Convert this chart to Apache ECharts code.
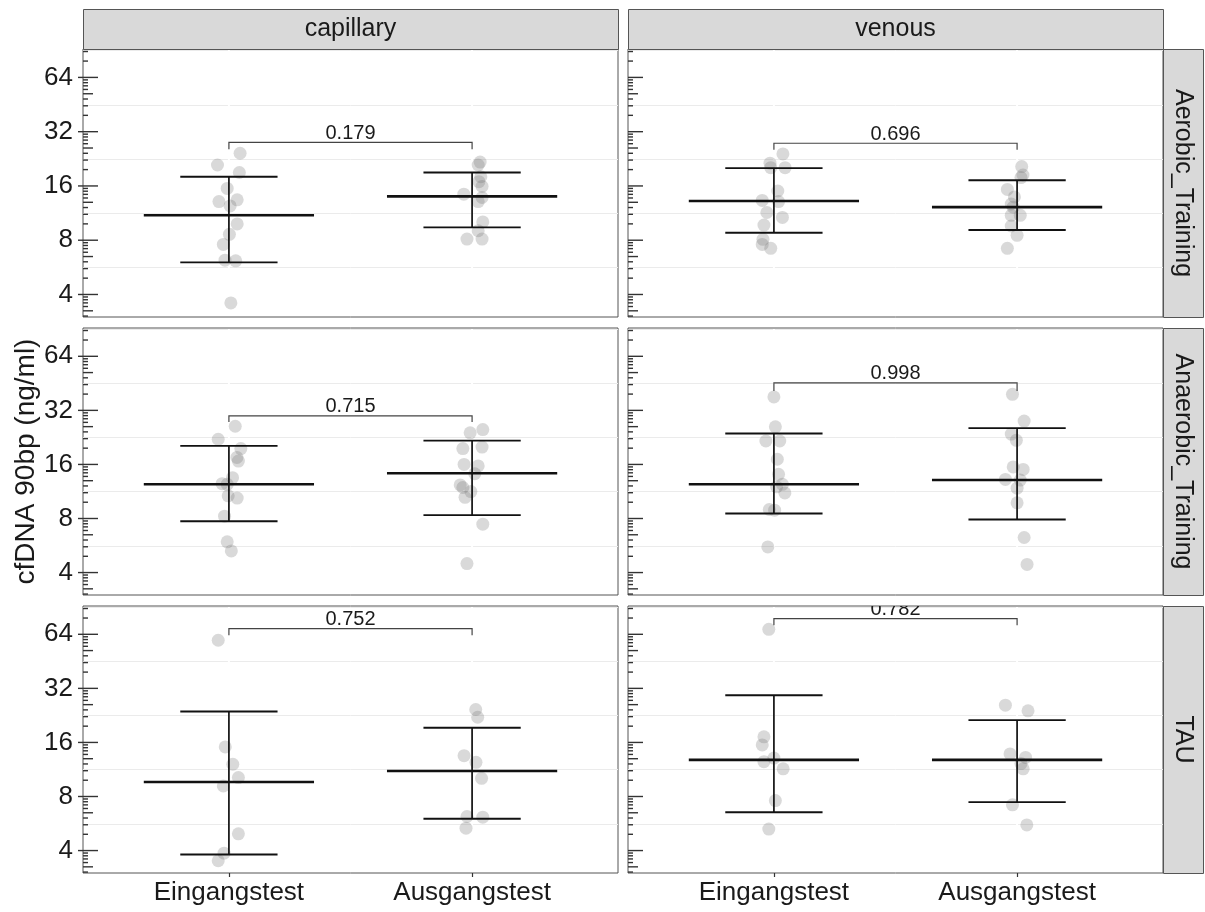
<!DOCTYPE html>
<html>
<head>
<meta charset="utf-8">
<script src="https://cdn.jsdelivr.net/npm/echarts@6/dist/echarts.min.js"></script>
<style>
  html, body { margin: 0; padding: 0; background: #ffffff; }
  #chart { width: 1205px; height: 912px; }
</style>
</head>
<body>
<div id="chart"></div>
<script>
// ---- facet labels and axis ticks ----
const timepoints = ['Eingangstest', 'Ausgangstest'];
const sampleTypes = ['capillary', 'venous'];
const trainingGroups = ['Aerobic_Training', 'Anaerobic_Training', 'TAU'];
const yTicks = [4, 8, 16, 32, 64];

// ---- cfDNA 90bp (ng/ml), one value per participant ----
const capAerobicPre   = [24.3, 20.9, 19.0, 15.5, 13.1, 13.4, 12.4, 9.85, 8.62, 7.58, 6.20, 6.15, 3.59];
const capAerobicPost  = [21.7, 20.9, 18.0, 16.9, 15.9, 14.4, 13.8, 13.1, 10.1, 9.03, 8.12, 8.12];
const venAerobicPre   = [24.1, 21.4, 20.2, 20.2, 15.0, 13.3, 13.1, 11.4, 10.7, 9.71, 8.09, 7.58, 7.21];
const venAerobicPost  = [20.5, 18.4, 17.8, 15.3, 13.9, 12.7, 12.2, 11.0, 11.0, 9.59, 8.51, 7.21];
const capAnaerobicPre = [26.1, 22.1, 19.6, 17.5, 16.7, 13.5, 12.5, 12.4, 10.7, 10.4, 8.24, 5.93, 5.28];
const capAnaerobicPost= [25.0, 24.0, 19.6, 20.0, 16.0, 15.7, 14.2, 12.3, 11.9, 11.3, 10.5, 7.44, 4.49];
const venAnaerobicPre = [38.0, 25.9, 21.6, 21.6, 17.1, 14.1, 12.4, 12.0, 11.1, 8.98, 8.90, 5.56];
const venAnaerobicPost= [39.3, 27.9, 23.6, 21.8, 15.5, 15.0, 13.2, 13.1, 11.8, 9.78, 6.27, 4.44];
const capTauPre       = [59.3, 15.1, 12.1, 10.2, 9.16, 4.96, 3.87, 3.51];
const capTauPost      = [24.4, 22.1, 13.5, 12.4, 10.1, 6.19, 6.14, 5.33];
const venTauPre       = [68.2, 17.2, 15.5, 13.1, 12.5, 11.4, 7.59, 5.27];
const venTauPost      = [25.8, 24.0, 13.8, 13.2, 12.2, 11.4, 7.19, 5.56];

// horizontal jitter of each point (category units)
const capAerobicPreJit   = [0.046, -0.047, 0.043, -0.007, -0.041, 0.034, 0.005, 0.034, 0.002, -0.023, -0.016, 0.028, 0.008];
const capAerobicPostJit  = [0.033, 0.025, 0.036, 0.028, 0.041, -0.034, 0.041, 0.025, 0.044, 0.025, -0.021, 0.041];
const venAerobicPreJit   = [0.037, -0.016, -0.013, 0.046, 0.016, -0.048, 0.019, -0.029, 0.035, -0.041, -0.045, -0.048, -0.013];
const venAerobicPostJit  = [0.019, 0.024, 0.016, -0.040, -0.011, -0.024, -0.016, 0.013, -0.024, -0.024, 0.0, -0.040];
const capAnaerobicPreJit = [0.026, -0.044, 0.049, 0.033, 0.039, 0.015, -0.028, -0.007, -0.003, 0.034, -0.018, -0.007, 0.010];
const capAnaerobicPostJit= [0.044, -0.008, -0.038, 0.041, -0.033, 0.025, 0.011, -0.049, -0.038, -0.005, -0.029, 0.044, -0.021];
const venAnaerobicPreJit = [0.0, 0.006, -0.033, 0.024, 0.014, 0.019, 0.035, 0.011, 0.045, -0.019, 0.003, -0.025];
const venAnaerobicPostJit= [-0.019, 0.029, -0.024, -0.003, -0.016, 0.025, -0.048, 0.013, 0.0, 0.0, 0.029, 0.041];
const capTauPreJit       = [-0.044, -0.015, 0.016, 0.039, -0.023, 0.039, -0.020, -0.044];
const capTauPostJit      = [0.015, 0.023, -0.033, 0.016, 0.039, -0.021, 0.044, -0.025];
const venTauPreJit       = [-0.021, -0.041, -0.048, 0.0, -0.041, 0.038, 0.006, -0.021];
const venTauPostJit      = [-0.048, 0.045, -0.029, 0.035, 0.016, 0.025, -0.019, 0.040];

// group summaries per panel (row-major: Aerobic cap, Aerobic ven, Anaerobic cap, ...) as [Eingangstest, Ausgangstest]
const groupMean  = [[11.0, 14.0], [13.2, 12.2], [12.4, 14.3], [12.4, 13.1], [9.64, 11.1], [12.8, 12.8]];
const groupLower = [[6.03, 9.43], [8.80, 9.11], [7.73, 8.35], [8.53, 7.90], [3.80, 6.01], [6.54, 7.44]];
const groupUpper = [[18.0, 19.0], [20.1, 17.2], [20.3, 21.7], [23.8, 25.5], [23.8, 19.3], [29.3, 21.3]];

// paired comparison brackets
const pValues     = ['0.179', '0.696', '0.715', '0.998', '0.752', '0.782'];
const bracketTop  = [27.9, 27.6, 29.8, 45.5, 68.8, 78.3];
const bracketFoot = [25.6, 25.4, 27.6, 41.0, 63.2, 71.8];

const panelPre  = [capAerobicPre, venAerobicPre, capAnaerobicPre, venAnaerobicPre, capTauPre, venTauPre];
const panelPost = [capAerobicPost, venAerobicPost, capAnaerobicPost, venAnaerobicPost, capTauPost, venTauPost];
const panelPreJit  = [capAerobicPreJit, venAerobicPreJit, capAnaerobicPreJit, venAnaerobicPreJit, capTauPreJit, venTauPreJit];
const panelPostJit = [capAerobicPostJit, venAerobicPostJit, capAnaerobicPostJit, venAnaerobicPostJit, capTauPostJit, venTauPostJit];

// ---- layout ----
const FONT = "'Liberation Sans', Arial, Helvetica, sans-serif";
const TEXT = '#1a1a1a';
const BORDER = '#555555';
const gridLeft = [83, 628];
const gridWidth = 535;
const gridTop = [49, 328, 606];
const gridHeight = [268, 267, 267];
const Y_MIN = 3, Y_MAX = 92;

// minor grid lines halfway between the doublings
const minorGrid = [];
for (let k = 1; k <= 6; k++) {
  const v = Math.pow(2, k + 0.5);
  if (v > Y_MIN && v < Y_MAX) minorGrid.push(v);
}
// log ticks along the left edge of each panel (decade-style ticks: 1 long, 5 mid, rest short)
const logTicks = [];
for (let k = 1; k <= 6; k++) {
  for (let n = 1; n <= 9; n++) {
    const v = Math.pow(2, k + Math.log10(n));
    if (v >= Y_MIN && v <= Y_MAX) logTicks.push({ v: v, len: n === 1 ? 15 : (n === 5 ? 10 : 5) });
  }
}

const grids = [], xAxes = [], yAxes = [], series = [];

for (let r = 0; r < 3; r++) {
  for (let c = 0; c < 2; c++) {
    const i = r * 2 + c;
    const isBottom = r === 2;
    const isLeft = c === 0;

    grids.push({
      left: gridLeft[c], top: gridTop[r], width: gridWidth, height: gridHeight[r],
      show: true, borderColor: BORDER, borderWidth: 1, backgroundColor: '#ffffff'
    });

    xAxes.push({
      gridIndex: i, type: 'value', min: 0.4, max: 2.6,
      axisLine: { show: false }, splitLine: { show: false },
      axisTick: { show: isBottom, customValues: [1, 2], length: 4, lineStyle: { color: '#333', width: 1.2 } },
      axisLabel: {
        show: isBottom, customValues: [1, 2], margin: 7,
        formatter: v => timepoints[Math.round(v) - 1] || '',
        fontSize: 26, color: TEXT, fontFamily: FONT
      }
    });

    const yAxis = {
      gridIndex: i, type: 'log', logBase: 2, min: Y_MIN, max: Y_MAX,
      axisLine: { show: false }, axisTick: { show: false }, splitLine: { show: false },
      axisLabel: {
        show: isLeft, margin: 10, showMinLabel: false, showMaxLabel: false,
        fontSize: 26, color: TEXT, fontFamily: FONT,
        formatter: v => {
          const k = Math.log2(v);
          const rv = Math.round(v);
          return (Math.abs(k - Math.round(k)) < 1e-6 && yTicks.indexOf(rv) >= 0) ? String(rv) : '';
        }
      }
    };
    if (i === 2) {
      Object.assign(yAxis, {
        name: 'cfDNA 90bp (ng/ml)', nameLocation: 'middle', nameGap: 41, nameRotate: 90,
        nameTextStyle: { fontSize: 28, color: TEXT, fontFamily: FONT }
      });
    }
    yAxes.push(yAxis);

    // panel decoration: minor grid, log ticks, outer major ticks
    series.push({
      type: 'custom', xAxisIndex: i, yAxisIndex: i, silent: true, z: 1, clip: false,
      data: [[1.5, 8]],
      renderItem: (params, api) => {
        const cs = params.coordSys;
        const children = [];
        minorGrid.forEach(v => {
          const y = Math.round(api.coord([1, v])[1]) + 0.5;
          children.push({ type: 'line', shape: { x1: cs.x, y1: y, x2: cs.x + cs.width, y2: y },
            style: { stroke: '#ebebeb', lineWidth: 1 } });
        });
        [1, 2].forEach(xv => {
          const x = api.coord([xv, 8])[0];
          children.push({ type: 'line', shape: { x1: x, y1: cs.y + 1, x2: x, y2: cs.y + cs.height - 1 },
            style: { stroke: '#ffffff', lineWidth: 2 } });
        });
        logTicks.forEach(t => {
          const y = api.coord([1, t.v])[1];
          children.push({ type: 'line', shape: { x1: cs.x, y1: y, x2: cs.x + t.len, y2: y },
            style: { stroke: '#333333', lineWidth: 1.4 } });
        });
        if (isLeft) {
          yTicks.forEach(v => {
            const y = api.coord([1, v])[1];
            children.push({ type: 'line', shape: { x1: cs.x - 5, y1: y, x2: cs.x, y2: y },
              style: { stroke: '#333333', lineWidth: 1.4 } });
          });
        }
        return { type: 'group', children: children };
      }
    });

    // participants
    const pts = panelPre[i].map((v, j) => [1 + panelPreJit[i][j], v])
      .concat(panelPost[i].map((v, j) => [2 + panelPostJit[i][j], v]));
    series.push({
      type: 'scatter', xAxisIndex: i, yAxisIndex: i, z: 2, silent: true,
      symbol: 'circle', symbolSize: 13,
      itemStyle: { color: 'rgba(110,110,110,0.32)' },
      emphasis: { disabled: true },
      data: pts
    });

    // mean with error bars
    series.push({
      type: 'custom', xAxisIndex: i, yAxisIndex: i, z: 3, silent: true,
      data: [0, 1].map(g => [g + 1, groupMean[i][g], groupLower[i][g], groupUpper[i][g]]),
      renderItem: (params, api) => {
        const x = api.value(0), m = api.value(1), lo = api.value(2), hi = api.value(3);
        const p = (xx, yy) => api.coord([xx, yy]);
        const seg = (a, b, w) => ({ type: 'line', shape: { x1: a[0], y1: a[1], x2: b[0], y2: b[1] },
          style: { stroke: '#111111', lineWidth: w } });
        return { type: 'group', children: [
          seg(p(x, lo), p(x, hi), 1.7),
          seg(p(x - 0.2, lo), p(x + 0.2, lo), 1.9),
          seg(p(x - 0.2, hi), p(x + 0.2, hi), 1.9),
          seg(p(x - 0.35, m), p(x + 0.35, m), 2.6)
        ] };
      }
    });

    // comparison bracket with p value
    series.push({
      type: 'custom', xAxisIndex: i, yAxisIndex: i, z: 4, silent: true, clip: true,
      data: [[1, 2, bracketTop[i], bracketFoot[i]]],
      renderItem: (params, api) => {
        const a = api.coord([api.value(0), api.value(3)]);
        const at = api.coord([api.value(0), api.value(2)]);
        const bt = api.coord([api.value(1), api.value(2)]);
        const b = api.coord([api.value(1), api.value(3)]);
        return { type: 'group', children: [
          { type: 'polyline', shape: { points: [a, at, bt, b] },
            style: { stroke: '#444444', lineWidth: 1.2, fill: null } },
          { type: 'text', x: (at[0] + bt[0]) / 2, y: at[1] - 9,
            style: { text: pValues[i], fill: TEXT, font: '20px ' + FONT, align: 'center', verticalAlign: 'middle' } }
        ] };
      }
    });
  }
}

// facet strips
const graphics = [];
sampleTypes.forEach((name, c) => {
  graphics.push({ type: 'rect', left: gridLeft[c], top: 9,
    shape: { width: gridWidth, height: 40 },
    style: { fill: '#d9d9d9', stroke: BORDER, lineWidth: 1 }, silent: true, z: 10 });
  graphics.push({ type: 'text', x: gridLeft[c] + gridWidth / 2, y: 29,
    style: { text: name, fill: TEXT, font: '25px ' + FONT, align: 'center', verticalAlign: 'middle' }, silent: true, z: 11 });
});
const stripX = gridLeft[1] + gridWidth;
trainingGroups.forEach((name, r) => {
  graphics.push({ type: 'rect', left: stripX, top: gridTop[r],
    shape: { width: 40, height: gridHeight[r] },
    style: { fill: '#d9d9d9', stroke: BORDER, lineWidth: 1 }, silent: true, z: 10 });
  graphics.push({ type: 'text', x: stripX + 20, y: gridTop[r] + gridHeight[r] / 2, rotation: -Math.PI / 2,
    style: { text: name, fill: TEXT, font: '25px ' + FONT, align: 'center', verticalAlign: 'middle' }, silent: true, z: 11 });
});

const chart = echarts.init(document.getElementById('chart'), null, { renderer: 'canvas' });
chart.setOption({
  animation: false,
  backgroundColor: '#ffffff',
  grid: grids,
  xAxis: xAxes,
  yAxis: yAxes,
  series: series,
  graphic: graphics
});
</script>
</body>
</html>
